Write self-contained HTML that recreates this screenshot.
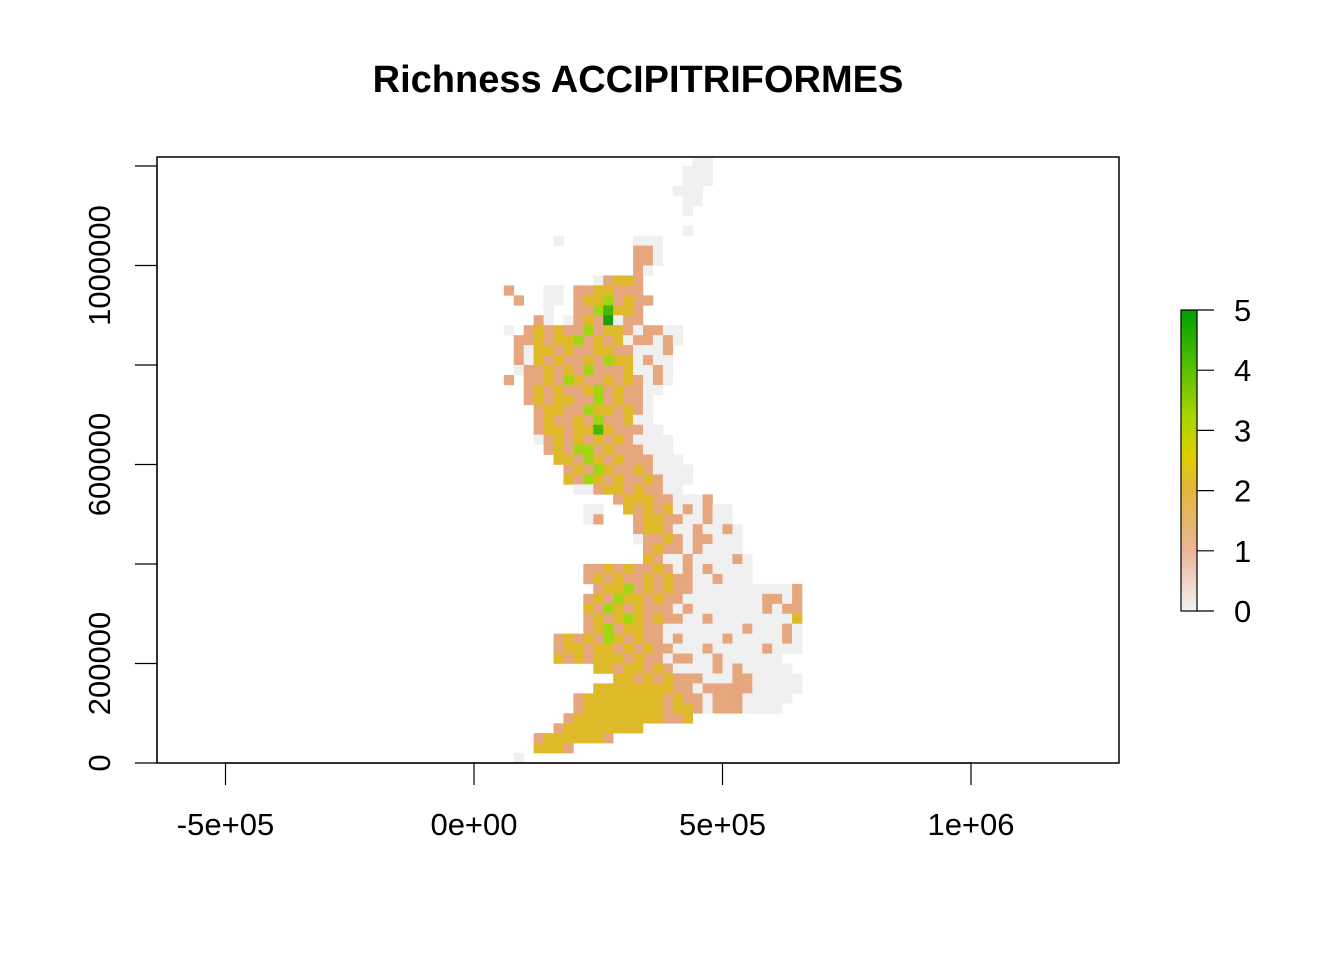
<!DOCTYPE html>
<html><head><meta charset="utf-8"><style>
html,body{margin:0;padding:0;background:#fff;}
svg{display:block;font-family:"Liberation Sans",Arial,sans-serif;}
</style></head><body>
<svg id="chart" width="1344" height="960">
<text x="638" y="92" text-anchor="middle" font-size="38" font-weight="bold">Richness ACCIPITRIFORMES</text>
<g id="cells"></g>
<rect x="157" y="157" width="962" height="606" fill="none" stroke="#000" stroke-width="1.5"/>
<g id="xaxis"></g>
<g id="yaxis"></g>
<defs><linearGradient id="lg" x1="0" y1="1" x2="0" y2="0">
<stop offset="0" stop-color="#F2F2F2"/><stop offset="0.2" stop-color="#EBB59A"/><stop offset="0.4" stop-color="#E2B63A"/><stop offset="0.52" stop-color="#DCD000"/><stop offset="0.65" stop-color="#A8D400"/><stop offset="0.82" stop-color="#4FBE00"/><stop offset="1" stop-color="#00A000"/></linearGradient></defs>
<g id="legend">
<rect x="1181" y="310" width="16" height="301" fill="url(#lg)" stroke="#000" stroke-width="1.2"/>
</g>
</svg>
<script>
const xTicks=[-500000,0,500000,1000000];
const xTickLabels=["-5e+05","0e+00","5e+05","1e+06"];
const yTicks=[0,200000,400000,600000,800000,1000000,1200000];
const yTickLabels=["0","200000","","600000","","1000000",""];
const legendValues=[0,1,2,3,4,5];
const cellSize=20000;
const cellColors={"0":"#F0F0F0","1":"#E6A67E","2":"#DEB92A","3":"#A3D612","4":"#45B80A","5":"#1E9C0A"};
// rows from top (y index 60) to bottom (y index 0); '.' = no data
const gridRows=[
"......................00",
".....................000",
".....................000",
"....................000",
".....................00",
".....................0",
"",
".....................0",
"........0.......000",
"................110",
"................110",
"................10",
"............01221",
"...1...00.1122111",
"....1..00.12231211",
".......0..1134221",
"......10.01215011",
"...0.1212113122101100",
"....11212231212011010",
"....1022121122110001",
"....1021211213220100",
"....0112121311120010",
"...1.112132112121010",
".....12121123121100",
".....1212211312110",
"......122113221210",
"......121121311200",
"......1221224211100",
"......01212121210000",
".......1213312111000",
"........2213212111000",
".........1213211210000",
".........2132121121000",
"..........00122121100",
"..............1222110001",
"...........00..21212010100",
"...........01...1221100100",
"................12210010010",
"................01121011000",
".................1211010000",
".................21001000010",
"...........11212112101010000",
"...........12121121211001000",
"............122312121100000000001",
"...........1213221211000000001101",
"...........2132121110100000001011",
"...........1212321211001000000002",
"...........1231221100000000100010",
"........1212132121101000010000010",
"........1221221212110001000001000",
"........21212221211011001000000",
"............22122121000010100000",
"..............2212121110001100000",
"............222222221101111100000",
"..........1222222221211011100000",
"..........122222222122101110000",
".........1222222222112",
"........122222222",
"......12222221",
"......2221",
"....0"
];
const NS="http://www.w3.org/2000/svg";
function sx(v){return 474+v*(248.5/500000);}
function sy(v){return 763-v*(99.5/200000);}
const cells=document.getElementById('cells');
const nRows=gridRows.length;
gridRows.forEach((row,i)=>{
  const j=nRows-1-i;
  for(let c=0;c<row.length;c++){
    const ch=row[c];
    if(ch==='.')continue;
    const r=document.createElementNS(NS,'rect');
    const x0=sx(c*cellSize),x1=sx((c+1)*cellSize);
    const y0=sy((j+1)*cellSize),y1=sy(j*cellSize);
    r.setAttribute('x',x0);r.setAttribute('y',y0);
    r.setAttribute('width',x1-x0+0.3);r.setAttribute('height',y1-y0+0.3);
    r.setAttribute('fill',cellColors[ch]);
    
    
    cells.appendChild(r);
  }
});
const xa=document.getElementById('xaxis');
const xl=document.createElementNS(NS,'line');
xl.setAttribute('x1',sx(xTicks[0]));xl.setAttribute('x2',sx(xTicks[xTicks.length-1]));
xl.setAttribute('y1',763);xl.setAttribute('y2',763);xl.setAttribute('stroke','#000');xl.setAttribute('stroke-width','1.2');


xa.appendChild(xl);
xTicks.forEach((v,k)=>{
  const t=document.createElementNS(NS,'line');
  t.setAttribute('x1',sx(v));t.setAttribute('x2',sx(v));t.setAttribute('y1',763);t.setAttribute('y2',785);
  t.setAttribute('stroke','#000');t.setAttribute('stroke-width','1.2');
  
  
  xa.appendChild(t);
  const tx=document.createElementNS(NS,'text');
  tx.setAttribute('x',sx(v));tx.setAttribute('y',835);tx.setAttribute('text-anchor','middle');tx.setAttribute('font-size','31');
  tx.textContent=xTickLabels[k];
  
  
  xa.appendChild(tx);
});
const ya=document.getElementById('yaxis');
const yl=document.createElementNS(NS,'line');
yl.setAttribute('x1',157);yl.setAttribute('x2',157);yl.setAttribute('y1',sy(yTicks[0]));yl.setAttribute('y2',sy(yTicks[yTicks.length-1]));
yl.setAttribute('stroke','#000');yl.setAttribute('stroke-width','1.2');


ya.appendChild(yl);
yTicks.forEach((v,k)=>{
  const t=document.createElementNS(NS,'line');
  t.setAttribute('x1',135);t.setAttribute('x2',157);t.setAttribute('y1',sy(v));t.setAttribute('y2',sy(v));
  t.setAttribute('stroke','#000');t.setAttribute('stroke-width','1.2');
  
  
  ya.appendChild(t);
  if(yTickLabels[k]){
    const tx=document.createElementNS(NS,'text');
    tx.setAttribute('transform','translate(110,'+sy(v)+') rotate(-90)');
    tx.setAttribute('text-anchor','middle');tx.setAttribute('font-size','31');
    tx.textContent=yTickLabels[k];
    
    
    ya.appendChild(tx);
  }
});
const lg=document.getElementById('legend');
legendValues.forEach(v=>{
  const y=611-v*(301/5);
  const t=document.createElementNS(NS,'line');
  t.setAttribute('x1',1197);t.setAttribute('x2',1214);t.setAttribute('y1',y);t.setAttribute('y2',y);
  t.setAttribute('stroke','#000');t.setAttribute('stroke-width','1.2');
  
  
  lg.appendChild(t);
  const tx=document.createElementNS(NS,'text');
  tx.setAttribute('x',1234);tx.setAttribute('y',y+11);tx.setAttribute('font-size','31');
  tx.textContent=String(v);
  
  
  lg.appendChild(tx);
});
</script>
</body></html>
